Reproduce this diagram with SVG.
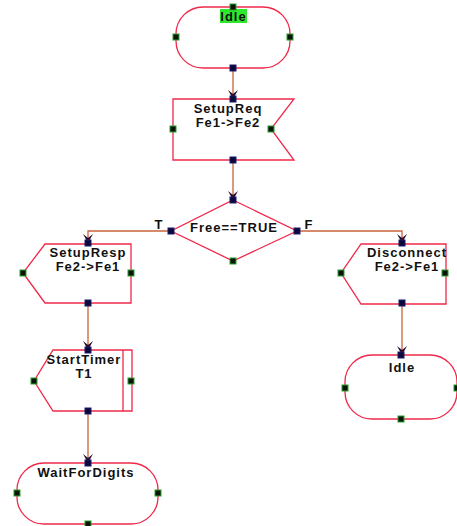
<svg xmlns="http://www.w3.org/2000/svg" width="457" height="526" viewBox="0 0 457 526">
  <style>
    .shape { fill: #ffffff; stroke: #f0284a; stroke-width: 1.3; }
    .wire { fill: none; stroke: #c8643c; stroke-width: 1.3; }
    .lbl { font-family: "Liberation Sans", Arial, sans-serif; font-weight: bold; font-size: 13px; letter-spacing: 1px; fill: #111; text-anchor: middle; }
    .hc { fill: #0a0a3a; stroke: #1a1a6a; stroke-width: 1; }
    .hf { fill: #0a140a; stroke: #2aa02a; stroke-width: 1; }
  </style>
  <defs>
    <marker id="arr" viewBox="0 0 10 10" refX="9" refY="5" markerWidth="10" markerHeight="10" markerUnits="userSpaceOnUse" orient="auto">
      <path d="M0,0 L9,5 L0,10 L4,5 Z" fill="#2a0a2a"/>
    </marker>
  </defs>
  <rect width="457" height="526" fill="#ffffff"/>

  <!-- connectors -->
  <g id="connectors">
    <path class="wire" d="M233,68 V99" marker-end="url(#arr)"/>
    <path class="wire" d="M233,160 V200" marker-end="url(#arr)"/>
    <path class="wire" d="M171,231 H88 V243" marker-end="url(#arr)"/>
    <path class="wire" d="M297,231 H402 V243" marker-end="url(#arr)"/>
    <path class="wire" d="M88,303 V350" marker-end="url(#arr)"/>
    <path class="wire" d="M402,303 V355" marker-end="url(#arr)"/>
    <path class="wire" d="M88,411 V463" marker-end="url(#arr)"/>
    <text class="lbl" x="159" y="229" letter-spacing="0">T</text>
    <text class="lbl" x="309" y="229" letter-spacing="0">F</text>
  </g>

  <!-- start state -->
  <g id="idle1">
    <rect class="shape" x="176" y="7" width="114" height="61" rx="27" ry="27"/>
    <rect x="220" y="9" width="27" height="14" fill="#2ee82e"/>
    <text class="lbl" x="233.5" y="21" letter-spacing="0.6">Idle</text>
    <rect class="hf" x="230" y="4" width="6" height="6"/>
    <rect class="hf" x="173" y="34" width="6" height="6"/>
    <rect class="hf" x="287" y="34" width="6" height="6"/>
    <rect class="hc" x="230" y="65" width="6" height="6"/>
  </g>

  <!-- output signal -->
  <g id="setupReq">
    <path class="shape" d="M173,99 H294 L271,129 L294,160 H173 Z"/>
    <text class="lbl" x="228" y="113">SetupReq</text>
    <text class="lbl" x="228" y="127">Fe1-&gt;Fe2</text>
    <rect class="hc" x="230" y="96" width="6" height="6"/>
    <rect class="hf" x="170" y="126" width="6" height="6"/>
    <rect class="hf" x="268" y="126" width="6" height="6"/>
    <rect class="hc" x="230" y="157" width="6" height="6"/>
  </g>

  <!-- decision -->
  <g id="decision">
    <path class="shape" d="M233,200 L297,231 L233,261 L171,231 Z"/>
    <text class="lbl" x="234" y="232">Free==TRUE</text>
    <rect class="hc" x="230" y="197" width="6" height="6"/>
    <rect class="hc" x="168" y="228" width="6" height="6"/>
    <rect class="hc" x="294" y="228" width="6" height="6"/>
    <rect class="hf" x="230" y="258" width="6" height="6"/>
  </g>

  <!-- input signals -->
  <g id="setupResp">
    <path class="shape" d="M45,244 H131 V303 H45 L23,273 Z"/>
    <text class="lbl" x="88" y="257">SetupResp</text>
    <text class="lbl" x="88" y="271">Fe2-&gt;Fe1</text>
    <rect class="hc" x="85" y="240" width="6" height="6"/>
    <rect class="hf" x="20" y="270" width="6" height="6"/>
    <rect class="hf" x="128" y="270" width="6" height="6"/>
    <rect class="hc" x="85" y="300" width="6" height="6"/>
  </g>

  <g id="disconnect">
    <path class="shape" d="M361,244 H446 V304 H361 L341,273 Z"/>
    <text class="lbl" x="407" y="257">Disconnect</text>
    <text class="lbl" x="407" y="271">Fe2-&gt;Fe1</text>
    <rect class="hc" x="399" y="240" width="6" height="6"/>
    <rect class="hf" x="338" y="270" width="6" height="6"/>
    <rect class="hf" x="442" y="270" width="6" height="6"/>
    <rect class="hc" x="399" y="300" width="6" height="6"/>
  </g>

  <!-- timer action -->
  <g id="startTimer">
    <path class="shape" d="M53,350 H132 V411 H53 L34,381 Z"/>
    <path class="shape" d="M123,350 V411" fill="none"/>
    <text class="lbl" x="84" y="364">StartTimer</text>
    <text class="lbl" x="84" y="378">T1</text>
    <rect class="hc" x="85" y="347" width="6" height="6"/>
    <rect class="hf" x="31" y="378" width="6" height="6"/>
    <rect class="hf" x="128" y="378" width="6" height="6"/>
    <rect class="hc" x="85" y="408" width="6" height="6"/>
  </g>

  <!-- end states -->
  <g id="idle2">
    <rect class="shape" x="345" y="355" width="112" height="64" rx="27" ry="27"/>
    <text class="lbl" x="402" y="372" letter-spacing="0.6">Idle</text>
    <rect class="hc" x="398" y="352" width="6" height="6"/>
    <rect class="hf" x="342" y="385" width="6" height="6"/>
    <rect class="hf" x="454" y="385" width="6" height="6"/>
    <rect class="hf" x="398" y="416" width="6" height="6"/>
  </g>

  <g id="waitForDigits">
    <rect class="shape" x="17" y="463" width="141" height="61" rx="27" ry="27"/>
    <text class="lbl" x="86" y="477">WaitForDigits</text>
    <rect class="hc" x="85" y="460" width="6" height="6"/>
    <rect class="hf" x="14" y="490" width="6" height="6"/>
    <rect class="hf" x="155" y="490" width="6" height="6"/>
    <rect class="hf" x="85" y="521" width="6" height="6"/>
  </g>
</svg>
